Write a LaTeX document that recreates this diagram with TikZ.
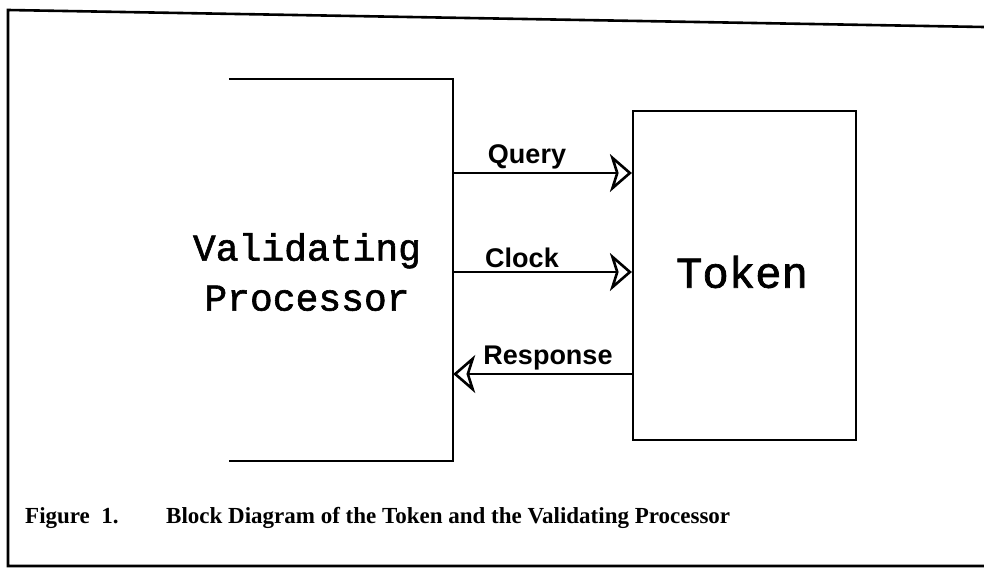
\documentclass[tikz,border=0pt]{standalone}
\usepackage{fontspec}
\setmainfont{Liberation Serif}
\newfontfamily\typefont[FakeBold=1.6]{Liberation Mono}
\newfontfamily\labelfont{Liberation Sans}
\usetikzlibrary{arrows.meta}
\tikzset{
  frame/.style={line width=2.6pt},
  block/.style={line width=2.2pt},
  sig/.style={line width=2.2pt, -{Stealth[open, length=22pt, width=38pt, inset=6pt, line width=2.6pt]}},
  sigtext/.style={font=\labelfont\bfseries\fontsize{27}{30}\selectfont, inner sep=0pt},
  blocktext/.style={font=\typefont\fontsize{38}{50}\selectfont, align=center, inner sep=0pt},
  captext/.style={font=\bfseries\fontsize{23}{26}\selectfont, inner sep=0pt, anchor=west}
}
\begin{document}
\begin{tikzpicture}[x=1pt, y=-1pt]
  \useasboundingbox (0,0) rectangle (984,581);
  % outer frame (right side runs off the page)
  \draw[frame] (984,27) -- (8,10) -- (8,566) -- (984,566);

  % validating processor: a bracket open on its left side
  \node[minimum width=224pt, minimum height=382pt, inner sep=0pt] (vp) at (341,270) {};
  \draw[block] (vp.north west) -- (vp.north east) -- (vp.south east) -- (vp.south west);
  \node[blocktext] (vptext) at (307,272) {Validating\\Processor};

  % token block
  \node[draw, block, minimum width=223pt, minimum height=329pt, inner sep=0pt] (tok) at (744.5,275.5) {};
  \node[blocktext, font=\typefont\fontsize{44}{50}\selectfont] (toktext) at (742,272) {Token};

  % signals between the two blocks
  \draw[sig] (vp.east |- 0,173) -- (tok.west |- 0,173);
  \draw[sig] (vp.east |- 0,272) -- (tok.west |- 0,272);
  \draw[sig] (tok.west |- 0,374) -- (vp.east |- 0,374);
  \node[sigtext] (lq) at (527,157) {Query};
  \node[sigtext] (lc) at (522,258) {Clock};
  \node[sigtext] (lr) at (548,358) {Response};

  % caption
  \node[captext] (fig) at (25,518) {Figure\ \ 1.};
  \node[captext] (cap) at (166,518) {Block Diagram of the Token and the Validating Processor};
\end{tikzpicture}
\end{document}
